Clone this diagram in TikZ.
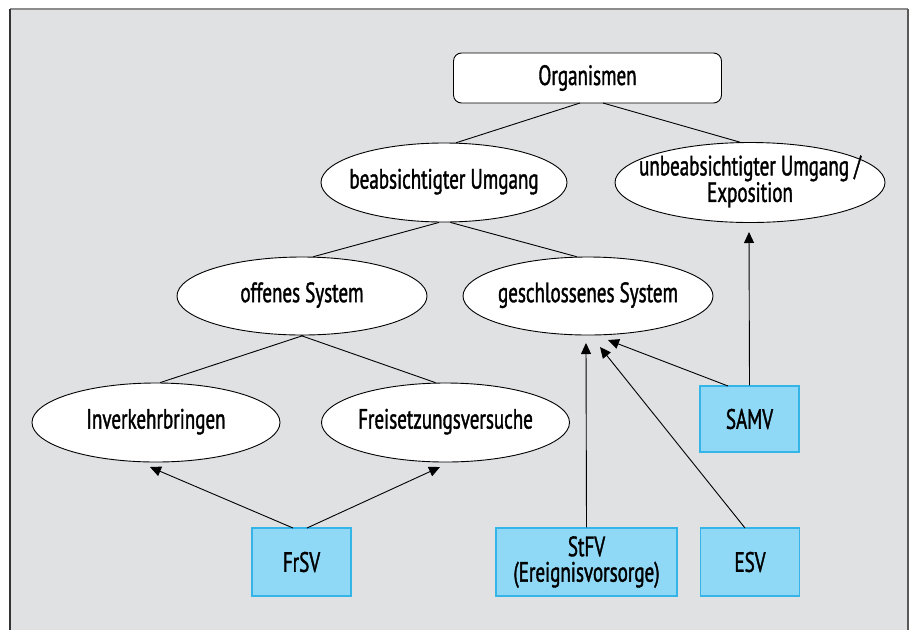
\documentclass[tikz,border=0pt]{standalone}
\usepackage{fontspec}
\setmainfont{PT Sans}[FakeStretch=0.68,FakeBold=1.3]
\usetikzlibrary{shapes.geometric,arrows.meta}
\definecolor{bg}{HTML}{E0E1E3}
\definecolor{boxfill}{HTML}{8FD8F6}
\definecolor{boxline}{HTML}{35B4E8}
\newcommand{\zw}[1]{\makebox[0pt]{\begin{tabular}{@{}c@{}}#1\end{tabular}}}
\tikzset{
  txt/.style={font=\fontsize{28}{25.5}\selectfont, align=center, text=black},
  ell/.style={txt, ellipse, draw=black, line width=0.9pt, fill=white, inner sep=0pt},
  lawbox/.style={txt, rectangle, draw=boxline, line width=1.2pt, fill=boxfill, inner sep=0pt},
  link/.style={draw=black, line width=0.9pt},
  arr/.style={draw=black, line width=0.9pt, -{Triangle[length=11pt,width=10pt]}},
}
\begin{document}
\begin{tikzpicture}[x=1pt,y=-1pt]
\useasboundingbox (0,0) rectangle (915,630);
\fill[bg] (10,9) rectangle (908,630);
\draw[line width=1.5pt, color=black!45] (10,9) -- (908,9);
\draw[line width=1.5pt, color=black!80] (10,9) -- (10,630);
\draw[line width=1.5pt, color=black!65] (908,9) -- (908,630);

\node[txt, draw=black, line width=0.9pt, fill=white, rounded corners=8pt, minimum width=268pt, minimum height=50pt, inner sep=0pt] (org) at (587.5,78) {Organismen};
\node[ell, minimum width=246pt, minimum height=79pt] (beab) at (444,182.5) {\zw{beabsichtigter Umgang}};
\node[ell, minimum width=270pt, minimum height=80pt] (unbeab) at (750,182.5) {\zw{unbeabsichtigter Umgang /\\[-1pt]Exposition}};
\node[ell, minimum width=250pt, minimum height=78pt] (off) at (302,296) {\zw{offenes System}};
\node[ell, minimum width=250pt, minimum height=78pt] (ges) at (588,296) {\zw{geschlossenes System}};
\node[ell, minimum width=248pt, minimum height=79pt] (inv) at (156,422.5) {\zw{Inverkehrbringen}};
\node[ell, minimum width=248pt, minimum height=79pt] (frei) at (445.5,422.5) {\zw{Freisetzungsversuche}};

\node[lawbox, minimum width=99pt, minimum height=68pt] (frsv) at (301.5,562) {FrSV};
\node[lawbox, minimum width=181pt, minimum height=68pt] (stfv) at (586.5,562) {StFV\\(Ereignisvorsorge)};
\node[lawbox, minimum width=99pt, minimum height=68pt] (esv) at (750,562) {ESV};
\node[lawbox, minimum width=99pt, minimum height=66pt] (samv) at (749.5,419) {SAMV};

\coordinate (orgL) at (580,103);
\coordinate (orgR) at (603,103);
\coordinate (tinv) at (150,467);
\coordinate (tfrei) at (440,467);
\coordinate (tst) at (586,343);
\coordinate (tesv) at (600,347);
\coordinate (tsamv) at (608,340);
\coordinate (tunb) at (749,232);
\coordinate (frsvL) at (293,528);
\coordinate (frsvR) at (307,528);
\coordinate (esvT) at (745,528);
\coordinate (samvL) at (728,386);

\draw[link] (orgL) -- (beab.73);
\draw[link] (orgR) -- (unbeab.104);
\draw[link] (beab.263) -- (off.74);
\draw[link] (beab.279) -- (ges.106);
\draw[link] (off.272) -- (inv.84);
\draw[link] (off.268) -- (frei.104);

\draw[arr] (frsvL) -- (tinv);
\draw[arr] (frsvR) -- (tfrei);
\draw[arr] (stfv.north) -- (tst);
\draw[arr] (esvT) -- (tesv);
\draw[arr] (samvL) -- (tsamv);
\draw[arr] (samv.north) -- (tunb);
\end{tikzpicture}
\end{document}
